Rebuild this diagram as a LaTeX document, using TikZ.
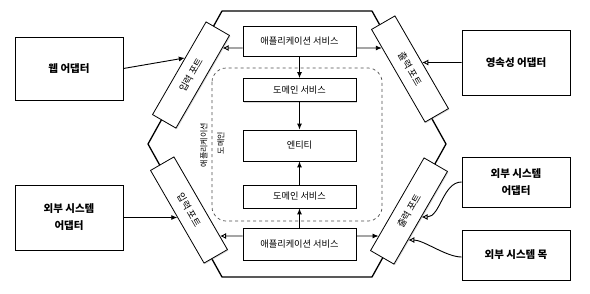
\documentclass[tikz,border=0pt]{standalone}
\usepackage{fontspec}
\setmainfont{Noto Sans CJK KR}
\usetikzlibrary{arrows.meta,shadows,calc}
\begin{document}
\begin{tikzpicture}[x=1pt,y=-1pt,
  box/.style={draw, line width=0.8pt, fill=white, inner sep=0pt, align=center,
    drop shadow={shadow xshift=1pt,shadow yshift=-1pt,opacity=0.3}},
  adapter/.style={box, minimum width=108pt, font=\fontsize{10.5}{17}\selectfont\bfseries},
  svc/.style={box, minimum width=113pt, font=\fontsize{9.2}{11}\selectfont},
  port/.style={box, minimum width=107pt, minimum height=27pt, font=\fontsize{9.5}{11}\selectfont},
  vlabel/.style={rotate=90, inner sep=0pt, font=\fontsize{8}{10}\selectfont},
  conn/.style={line width=0.9pt},
  fa/.style={conn,-{Latex[length=6pt,width=5pt]}},
  oa/.style={conn,-{Latex[open,length=6pt,width=6pt]}},
]
\useasboundingbox (0,0) rectangle (590,293);

% hexagon
\draw[line width=1.3pt, line join=round] (222,11) -- (372,11) -- (446,144) -- (372,277) -- (222,277) -- (148,144) -- cycle;

% dashed application core
\draw[dashed, line width=0.7pt, rounded corners=14pt, black!70] (212,68) rectangle (382,221);
\node[vlabel] (applbl) at (204,145) {애플리케이션};
\node[vlabel] (domlbl) at (221,143) {도메인};

% adapters
\node[adapter, minimum height=63pt] (web)  at (69,68.5) {웹 어댑터};
\node[adapter, minimum height=65pt] (extL) at (69,217.5) {외부 시스템\\어댑터};
\node[adapter, minimum height=65pt] (pers) at (516,62.5) {영속성 어댑터};
\node[adapter, minimum height=50pt] (extR) at (516,182) {외부 시스템\\어댑터};
\node[adapter, minimum height=50pt] (mock) at (516,255) {외부 시스템 목};

% inner services
\node[svc, minimum height=30pt] (app1) at (299.5,41) {애플리케이션 서비스};
\node[svc, minimum height=23pt] (dom1) at (299.5,90) {도메인 서비스};
\node[svc, minimum height=31pt] (ent)  at (299.5,145.5) {엔티티};
\node[svc, minimum height=23pt] (dom2) at (299.5,196.5) {도메인 서비스};
\node[svc, minimum height=32pt] (app2) at (299.5,244) {애플리케이션 서비스};

% ports
\node[port, rotate=60]  (portTL) at (191,75) {입력 포트};
\node[port, rotate=-60] (portBL) at (189,210) {입력 포트};
\node[port, rotate=-60] (portTR) at (410,69) {출력 포트};
\node[port, rotate=60]  (portBR) at (409,211) {출력 포트};

% vertical arrows
\draw[fa] (app1.south) -- (dom1.north);
\draw[fa] (dom1.south) -- (ent.north);
\draw[fa] (dom2.north) -- (ent.south);
\draw[fa] (app2.north) -- (dom2.south);

% helper points
\coordinate (a1L) at ([yshift=-7pt]app1.west);
\coordinate (a1R) at ([yshift=-7pt]app1.east);
\coordinate (a2L) at ([yshift=8pt]app2.west);
\coordinate (a2R) at ([yshift=8pt]app2.east);

% left side
\draw[fa] (web.east) -- (intersection of web.east--a1L and portTL.north west--portTL.north east);
\draw[oa] (a1L) -- (intersection of a1L--a1R and portTL.south west--portTL.south east);
\draw[fa] (extL.east) -- (intersection of 120,217.5--300,217.5 and portBL.south west--portBL.south east);
\draw[oa] (a2L) -- (intersection of a2L--a2R and portBL.north west--portBL.north east);

% right side
\draw[fa] (a1R) -- (intersection of a1L--a1R and portTR.south west--portTR.south east);
\draw[oa] (pers.west) -- (intersection of pers.west--300,62.5 and portTR.north west--portTR.north east);
\draw[fa] (a2R) -- (intersection of a2L--a2R and portBR.north west--portBR.north east);
\path (intersection of 350,217--450,217 and portBR.south west--portBR.south east) coordinate (tBR1);
\path (intersection of 350,240--450,240 and portBR.south west--portBR.south east) coordinate (tBR2);
\draw[oa] (extR.west) to[out=180,in=0,looseness=0.9] (tBR1);
\draw[oa] ([yshift=-2pt]mock.west) to[out=180,in=0,looseness=0.7] (tBR2);
\end{tikzpicture}
\end{document}
